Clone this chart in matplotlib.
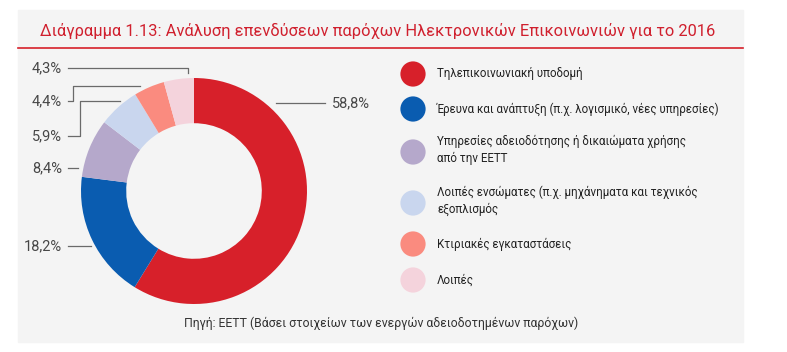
import numpy as np
import matplotlib
matplotlib.use('Agg')
import matplotlib.pyplot as plt

plt.rcParams['font.family'] = ['Roboto', 'DejaVu Sans']

# data
categories = ['Τηλεπικοινωνιακή υποδομή',
              'Έρευνα και ανάπτυξη (π.χ. λογισμικό, νέες υπηρεσίες)',
              'Υπηρεσίες αδειοδότησης ή δικαιώματα χρήσης\nαπό την ΕΕΤΤ',
              'Λοιπές ενσώματες (π.χ. μηχάνηματα και τεχνικός\nεξοπλισμός',
              'Κτιριακές εγκαταστάσεις',
              'Λοιπές']
values = [58.8, 18.2, 8.4, 5.9, 4.4, 4.3]
value_labels = ['58,8%', '18,2%', '8,4%', '5,9%', '4,4%', '4,3%']
colors = ['#d7202a', '#0a5cb0', '#b5a8cb', '#c9d6ee', '#fa8b7f', '#f4d3dc']

title = 'Διάγραμμα 1.13: Ανάλυση επενδύσεων παρόχων Ηλεκτρονικών Επικοινωνιών για το 2016'
source = 'Πηγή: ΕΕΤΤ (Βάσει στοιχείων των ενεργών αδειοδοτημένων παρόχων)'

W, H = 787, 352
fig = plt.figure(figsize=(W / 100, H / 100), dpi=100)
fig.patch.set_facecolor('white')

# overlay in pixel coords
bg = fig.add_axes([0, 0, 1, 1])
bg.set_xlim(0, W)
bg.set_ylim(H, 0)
bg.axis('off')
bg.add_patch(plt.Rectangle((18, 10), 725, 332, color='#f4f4f4', zorder=0))
bg.plot([18, 743], [48, 48], color='#d7202a', lw=1.2)
bg.text(40, 31, title, color='#d0202e', fontsize=11.9, va='center', ha='left')
bg.text(381, 323, source, color='#333333', fontsize=8.8, va='center', ha='center')

# donut
cx, cy, R = 194, 191, 113
ax = fig.add_axes([(cx - R) / W, (H - cy - R) / H, 2 * R / W, 2 * R / H])
ax.pie(values, colors=colors, startangle=90, counterclock=False,
       wedgeprops=dict(width=0.4, linewidth=0))
ax.set_xlim(-1, 1)
ax.set_ylim(-1, 1)
ax.set_aspect('equal')
ax.axis('off')

# labels with leader lines (pixel paths)
lbl_pos = [(332, 103), (62, 246), (62, 168), (62, 136), (62, 101), (62, 68)]
paths = [
    [(276, 103), (325, 103)],
    [(68, 246), (91, 246)],
    [(68, 168), (78, 168)],
    [(68, 136), (80, 136), (80, 101), (120, 101)],
    [(68, 101), (73, 101), (73, 86), (140, 86)],
    [(68, 68), (188, 68), (188, 73)],
]
for i, lab in enumerate(value_labels):
    x, y = lbl_pos[i]
    bg.text(x, y, lab, color='#474747', fontsize=10.5, va='center',
            ha='left' if i == 0 else 'right')
    px = [p[0] for p in paths[i]]
    py = [p[1] for p in paths[i]]
    bg.plot(px, py, color='#6a6a6a', lw=0.9)

# legend
leg_y = [74, 109, 152, 203, 244, 280]
for i, cat in enumerate(categories):
    bg.scatter([413], [leg_y[i]], s=330, color=colors[i], edgecolors='none')
    bg.text(437, leg_y[i] - (2 if '\n' in cat else 0), cat, color='#222222',
            fontsize=8.3, va='center', ha='left', linespacing=1.35)

fig.savefig('out.png', dpi=100)
